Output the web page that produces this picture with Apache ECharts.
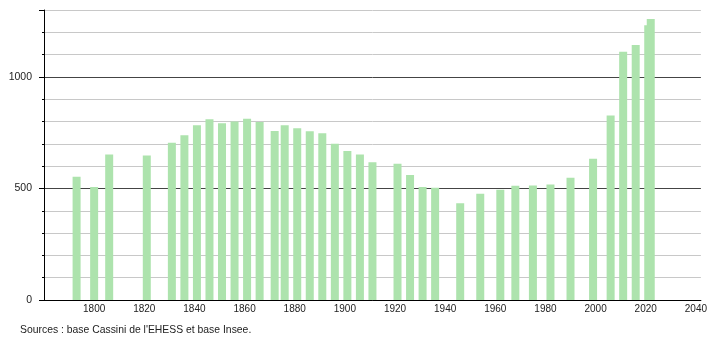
<!DOCTYPE html>
<html>
<head>
<meta charset="utf-8">
<script src="https://cdn.jsdelivr.net/npm/echarts@6/dist/echarts.min.js"></script>
<style>html,body{margin:0;padding:0;background:#fff;}#c{width:710px;height:340px;}</style>
</head>
<body>
<div id="c"></div>
<script>
const years = [1793, 1800, 1806, 1821, 1831, 1836, 1841, 1846, 1851, 1856, 1861, 1866, 1872, 1876, 1881, 1886, 1891, 1896, 1901, 1906, 1911, 1921, 1926, 1931, 1936, 1946, 1954, 1962, 1968, 1975, 1982, 1990, 1999, 2006, 2011, 2016, 2021, 2022];
const population = [553, 507, 652, 648, 705, 739, 783, 810, 792, 800, 813, 798, 758, 783, 770, 757, 747, 700, 668, 652, 618, 611, 560, 507, 503, 434, 476, 494, 512, 513, 518, 548, 633, 827, 1113, 1143, 1232, 1260];
const xTickLabels = [1800, 1820, 1840, 1860, 1880, 1900, 1920, 1940, 1960, 1980, 2000, 2020, 2040];
const yTickLabels = [0, 500, 1000];
const sourceText = "Sources : base Cassini de l'EHESS et base Insee.";

const chart = echarts.init(document.getElementById('c'), null, {renderer: 'canvas'});
const font = 'Liberation Sans, Arial, sans-serif';
chart.setOption({
  animation: false,
  grid: {left: 44, right: 9, top: 10, bottom: 40, containLabel: false},
  xAxis: {
    type: 'value', min: 1780, max: 2042, interval: 20,
    axisLine: {show: true, lineStyle: {color: '#000', width: 1}},
    axisTick: {show: false},
    splitLine: {show: false},
    axisLabel: {
      show: true, margin: 4, fontSize: 10, color: '#222', fontFamily: font,
      showMinLabel: true, showMaxLabel: true,
      formatter: v => xTickLabels.indexOf(v) >= 0 ? String(v) : ''
    }
  },
  yAxis: [{
    type: 'value', min: 0, max: 1300, interval: 100,
    axisLine: {show: true, onZero: false, lineStyle: {color: '#000', width: 1}},
    axisTick: {show: true, length: 2, lineStyle: {color: '#000'}},
    axisLabel: {show: false},
    splitLine: {show: true, lineStyle: {color: ['#444', '#c8c8c8', '#c8c8c8', '#c8c8c8', '#c8c8c8'], width: 1}}
  }, {
    type: 'value', min: 0, max: 1300, interval: 500, position: 'left',
    axisLine: {show: false},
    axisTick: {show: true, length: 5, lineStyle: {color: '#000'}},
    splitLine: {show: false},
    axisLabel: {
      show: true, margin: 12, fontSize: 10.5, color: '#222', fontFamily: font,
      formatter: v => yTickLabels.indexOf(v) >= 0 ? String(v) : ''
    }
  }],
  series: [{
    type: 'bar',
    yAxisIndex: 0,
    barWidth: 8,
    itemStyle: {color: '#ade3ad'},
    data: years.map((y, i) => [y, population[i]])
  }],
  graphic: [{
    type: 'text', left: 20, top: 325,
    style: {text: sourceText, fontSize: 10.4, fill: '#222', fontFamily: font}
  }]
});
</script>
</body>
</html>
